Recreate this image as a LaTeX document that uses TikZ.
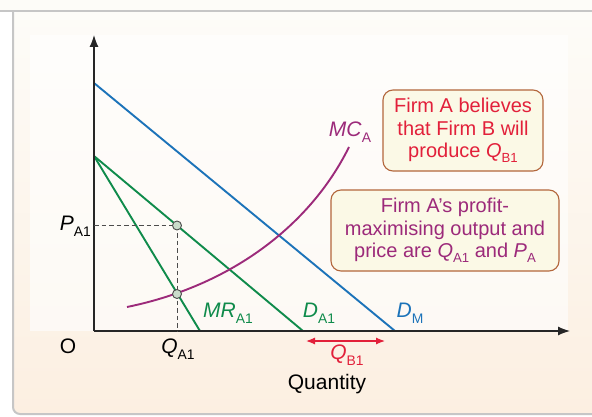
\documentclass[tikz,border=0pt]{standalone}
\usepackage{fontspec}
\setmainfont{Liberation Sans}
\usepackage{xcolor}
\usepackage{tikz}
\usetikzlibrary{
  arrows.meta,
  positioning,
  calc
}
\definecolor{FrameGray}{HTML}{C6C6C6}
\definecolor{PanelTop}{HTML}{FDFCF8}
\definecolor{PanelBottom}{HTML}{FCEFE1}
\definecolor{CurveBlue}{HTML}{1C73B9}
\definecolor{CurveGreen}{HTML}{0F8B4B}
\definecolor{CurvePurple}{HTML}{9C2A7A}
\definecolor{ArrowRed}{HTML}{E2203A}
\definecolor{NoteFill}{HTML}{FBF9E6}
\definecolor{NoteBorder}{HTML}{B3673C}
\definecolor{DotFill}{HTML}{CADCCB}
\newcommand{\econ}[2]{\textit{#1}\raisebox{-0.27em}{\scalebox{0.66}{#2}}}
\tikzset{
  axis/.style={
    -{Latex[length=12pt,width=9pt]},
    line width=1.2pt,
    black!85
  },
  demand/.style={
    line width=1.9pt
  },
  guide/.style={
    dashed,
    dash pattern=on 4.5pt off 3pt,
    line width=0.9pt,
    black!70
  },
  point/.style={
    circle,
    draw=black!70,
    fill=DotFill,
    line width=0.9pt,
    inner sep=0pt,
    minimum size=9pt
  },
  lbl/.style={
    font=\fontsize{21}{24}\selectfont,
    inner sep=0pt
  },
  note/.style={
    draw=NoteBorder,
    fill=NoteFill,
    rounded corners=10pt,
    line width=1.1pt,
    align=center,
    font=\fontsize{20}{22.5}\selectfont,
    inner sep=0pt
  },
  span/.style={
    {Latex[length=9pt,width=7pt]}-{Latex[length=9pt,width=7pt]},
    line width=1.2pt,
    ArrowRed
  }
}

\begin{document}
\begin{tikzpicture}[
  x=1pt,
  y=1pt
]

  \useasboundingbox (0,0) rectangle (592,416);
  \fill[white] (0,0) rectangle (592,416);
  \fill[PanelTop] (0,405) rectangle (592,416);
  \shade[
    top color=PanelTop,
    bottom color=PanelBottom,
    rounded corners=7pt
  ] (13,2) rectangle (610,405);
  \draw[FrameGray, line width=2pt, rounded corners=7pt]
  (610,2) -- (13,2) -- (13,405);
  \draw[FrameGray, line width=2.5pt] (0,405) -- (592,405);
  \fill[white, opacity=0.6] (30,85) rectangle (568,381);

  \coordinate (origin) at (94,85);
  \coordinate (ytop) at (94,381);
  \coordinate (xend) at (570,85);
  \coordinate (dmtop) at (94,333);
  \coordinate (dmend) at (395,85);
  \coordinate (datop) at (94,260);
  \coordinate (daend) at (303,85);
  \coordinate (mrend) at (200,85);
  \coordinate (mcstart) at (127,109);
  \coordinate (mcend) at (349,269);
  \coordinate (qbleft) at (306,75);
  \coordinate (qbright) at (385,75);

  \draw[demand, CurveBlue] (dmtop) -- (dmend);
  \draw[demand, CurveGreen] (datop) -- (daend);
  \draw[demand, CurveGreen] (datop) -- (mrend);
  \draw[demand, CurvePurple]
  (mcstart) .. controls (230,130) and (310,190) .. (mcend);

  \draw[axis] (origin) -- (ytop);
  \draw[axis] (origin) -- (xend);

  \coordinate (pricept) at (177,190.5);
  \coordinate (mcpt) at (177,122);
  \draw[guide] (origin |- pricept) -- (pricept);
  \draw[guide] (pricept) -- (origin -| pricept);
  \node[point] (equil) at (pricept) {};
  \node[point] (mcmr) at (mcpt) {};

  \draw[span] (qbleft) -- (qbright);

  \node[lbl, anchor=east] (pa1) at (91,190) {\econ{P}{A1}};
  \node[lbl] (olabel) at (68,70) {O};
  \node[lbl] (qa1) at (178,67) {\econ{Q}{A1}};
  \node[lbl, CurveGreen] (mra1) at (228,103) {\econ{MR}{A1}};
  \node[lbl, CurveGreen] (da1) at (319,103) {\econ{D}{A1}};
  \node[lbl, CurveBlue] (dm) at (410,103) {\econ{D}{M}};
  \node[lbl, CurvePurple] (mca) at (350,284) {\econ{MC}{A}};
  \node[lbl, ArrowRed] (qb1) at (347,61) {\econ{Q}{B1}};
  \node[lbl] (quantity) at (327,32) {Quantity};

  \node[
    note,
    text=ArrowRed,
    minimum width=160pt,
    minimum height=81pt
  ] (belief) at (463,285.5) {
    Firm A believes\\
    that Firm B will\\
    produce \econ{Q}{B1}
  };

  \node[
    note,
    text=CurvePurple,
    minimum width=228pt,
    minimum height=81pt
  ] (optimum) at (445,185.5) {
    Firm A’s profit-\\
    maximising output and\\
    price are \econ{Q}{A1} and \econ{P}{A}
  };

\end{tikzpicture}
\end{document}
